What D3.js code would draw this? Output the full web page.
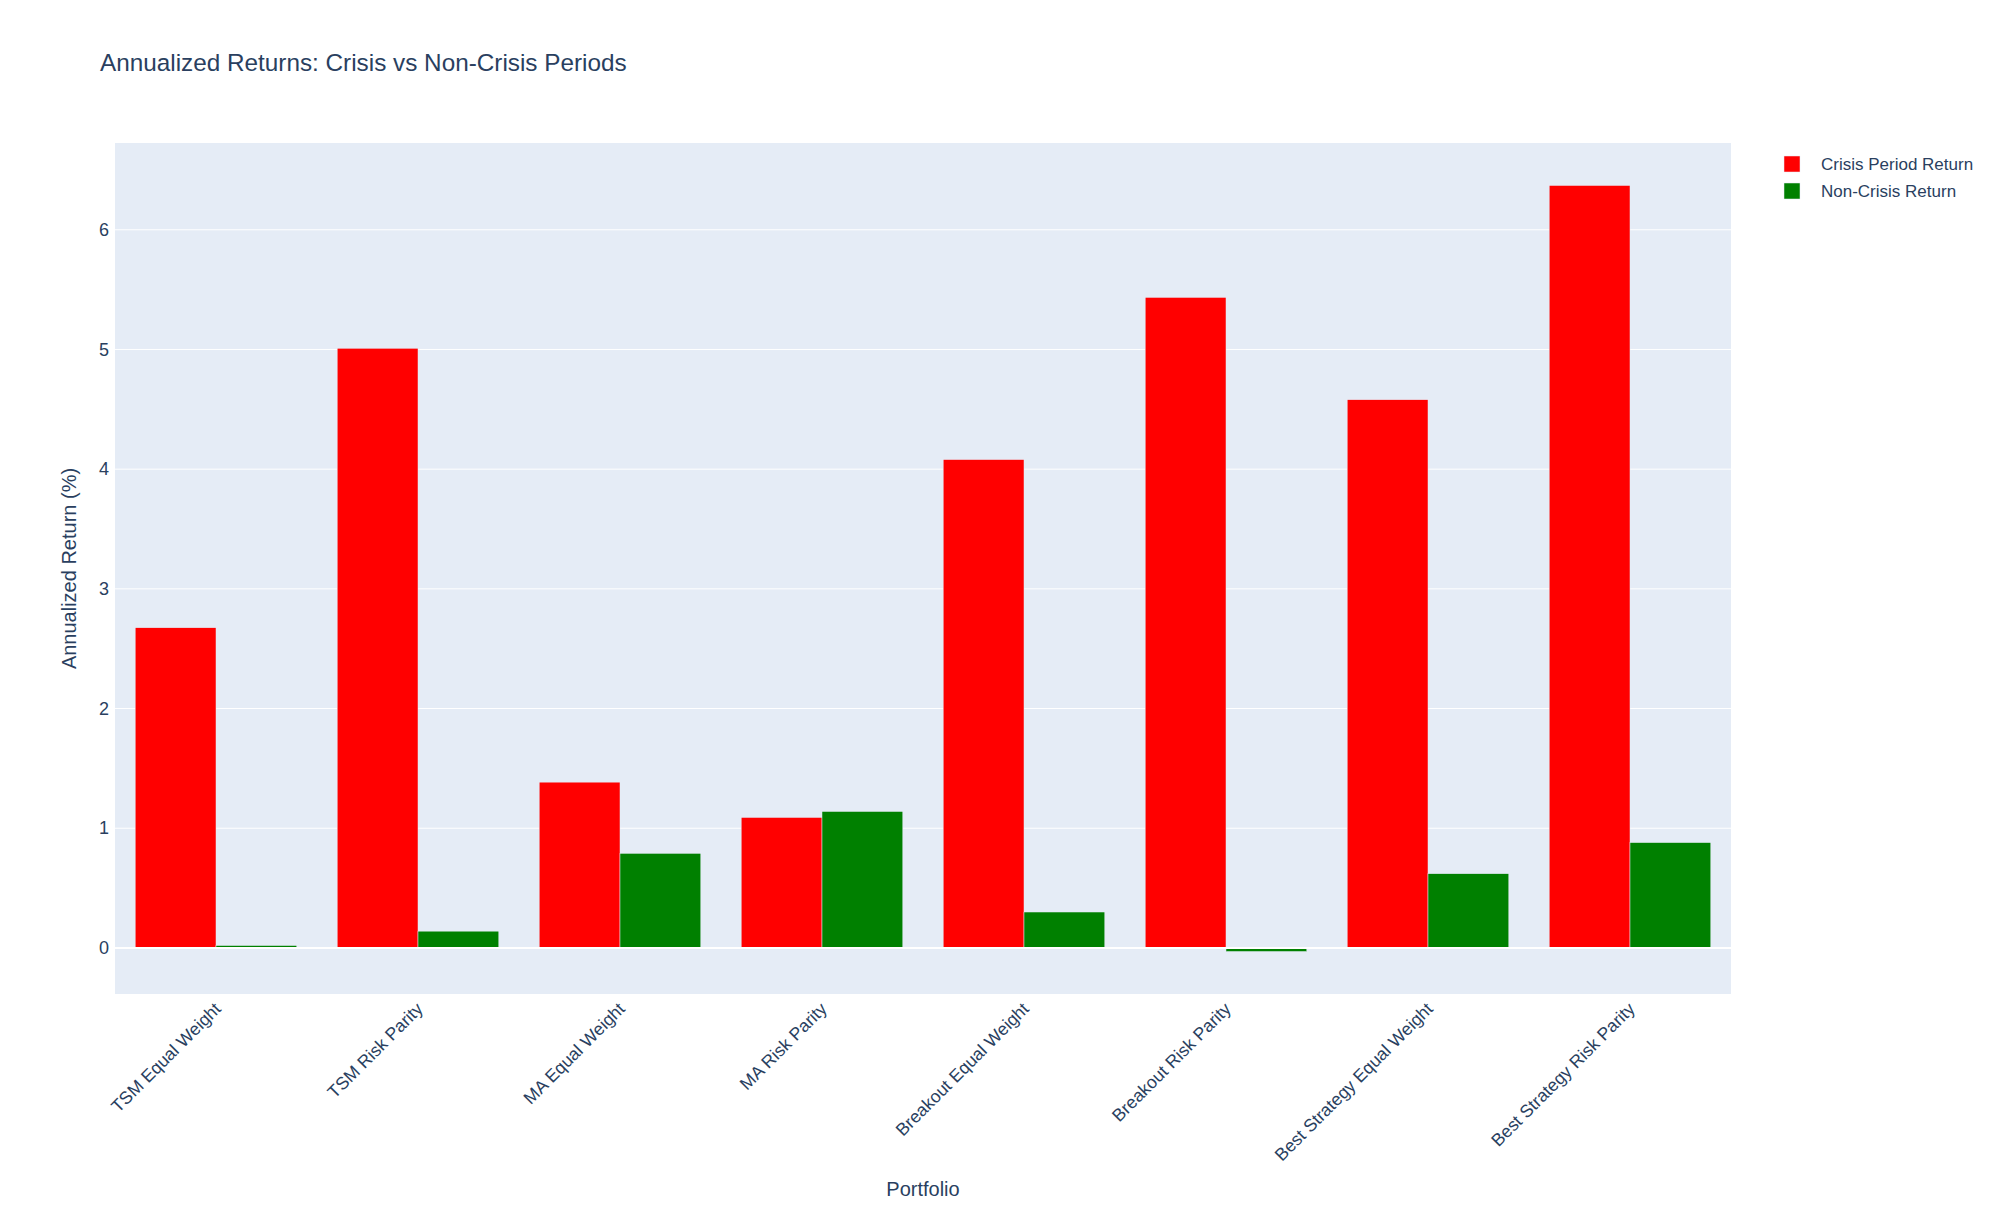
<!DOCTYPE html>
<html>
<head>
<meta charset="utf-8">
<script src="https://cdn.jsdelivr.net/npm/d3@7"></script>
<style>
  body { margin: 0; background: #fff; }
  svg text { font-family: "Liberation Sans", Arial, sans-serif; fill: #2a3f5f; }
</style>
</head>
<body>
<main></main>
<script>
// chart data
const portfolios = [
  "TSM Equal Weight", "TSM Risk Parity", "MA Equal Weight", "MA Risk Parity",
  "Breakout Equal Weight", "Breakout Risk Parity", "Best Strategy Equal Weight", "Best Strategy Risk Parity"
];
const crisisReturns = [2.675, 5.01, 1.385, 1.09, 4.08, 5.435, 4.58, 6.37];
const nonCrisisReturns = [0.02, 0.14, 0.79, 1.14, 0.30, -0.03, 0.62, 0.88];
const seriesNames = ["Crisis Period Return", "Non-Crisis Return"];
const seriesColors = ["#ff0000", "#008000"];
const yTicks = [0, 1, 2, 3, 4, 5, 6];

const svgSize = { width: 2000, height: 1214 };
const plot = { left: 115, right: 1731, top: 143, bottom: 994 };

const svg = d3.select("main")
  .append("svg")
  .attr("width", svgSize.width)
  .attr("height", svgSize.height);

// plot background
svg.append("rect")
  .attr("x", plot.left).attr("y", plot.top)
  .attr("width", plot.right - plot.left)
  .attr("height", plot.bottom - plot.top)
  .attr("fill", "#e5ecf6");

const xScale = d3.scaleBand()
  .domain(portfolios)
  .range([plot.left, plot.right])
  .paddingInner(0.2)
  .paddingOuter(0.1);

const xInner = d3.scaleBand()
  .domain(seriesNames)
  .range([0, xScale.bandwidth()]);

const yScale = d3.scaleLinear()
  .domain([-0.385, 6.725])
  .range([plot.bottom, plot.top]);

// gridlines
svg.append("g")
  .selectAll("line")
  .data(yTicks.filter(d => d !== 0))
  .enter()
  .append("line")
  .attr("x1", plot.left).attr("x2", plot.right)
  .attr("y1", d => yScale(d)).attr("y2", d => yScale(d))
  .attr("stroke", "#fff").attr("stroke-width", 1);

// y axis labels
const yAxis = svg.append("g")
  .attr("transform", `translate(${plot.left}, 0)`)
  .call(d3.axisLeft(yScale).tickValues(yTicks).tickSize(0).tickPadding(6).tickFormat(d3.format("d")));
yAxis.select(".domain").remove();
yAxis.selectAll("text")
  .style("font-size", "18px")
  .style("font-family", "'Liberation Sans', Arial, sans-serif")
  .attr("fill", "#2a3f5f");

// bars
const rows = portfolios.map((p, i) => ({ p, vals: [crisisReturns[i], nonCrisisReturns[i]] }));
rows.forEach(row => {
  svg.append("g")
    .selectAll("rect")
    .data(row.vals)
    .enter()
    .append("rect")
    .attr("x", (d, j) => xScale(row.p) + xInner(seriesNames[j]))
    .attr("width", xInner.bandwidth())
    .attr("y", d => yScale(Math.max(0, d)))
    .attr("height", d => Math.abs(yScale(d) - yScale(0)))
    .attr("fill", (d, j) => seriesColors[j])
    .attr("stroke", "#e5ecf6")
    .attr("stroke-width", 0.5);
});

// zero line
svg.append("line")
  .attr("x1", plot.left).attr("x2", plot.right)
  .attr("y1", yScale(0)).attr("y2", yScale(0))
  .attr("stroke", "#fff").attr("stroke-width", 2);

// x axis labels
const xAxis = svg.append("g")
  .attr("transform", `translate(0, ${plot.bottom})`)
  .call(d3.axisBottom(xScale).tickSize(0).tickPadding(0));
xAxis.select(".domain").remove();
xAxis.selectAll("text")
  .style("font-size", "17.6px")
  .style("font-family", "'Liberation Sans', Arial, sans-serif")
  .attr("fill", "#2a3f5f")
  .attr("text-anchor", "end")
  .attr("dy", null)
  .attr("y", 0)
  .attr("transform", "translate(6, 16) rotate(-45)");

// titles
svg.append("text")
  .attr("x", 100).attr("y", 71)
  .style("font-size", "24.3px")
  .text("Annualized Returns: Crisis vs Non-Crisis Periods");

svg.append("text")
  .attr("transform", `translate(76, ${(plot.top + plot.bottom) / 2}) rotate(-90)`)
  .attr("text-anchor", "middle")
  .style("font-size", "20px")
  .text("Annualized Return (%)");

svg.append("text")
  .attr("x", (plot.left + plot.right) / 2).attr("y", 1196)
  .attr("text-anchor", "middle")
  .style("font-size", "20px")
  .text("Portfolio");

// legend
const legend = svg.append("g").attr("transform", "translate(1784, 156)");
seriesNames.forEach((name, i) => {
  const g = legend.append("g").attr("transform", `translate(0, ${i * 27})`);
  g.append("rect")
    .attr("width", 16).attr("height", 16)
    .attr("fill", seriesColors[i])
    .attr("stroke", "#e5ecf6").attr("stroke-width", 0.5);
  g.append("text")
    .attr("x", 37).attr("y", 14)
    .style("font-size", "17px")
    .text(name);
});
</script>
</body>
</html>
